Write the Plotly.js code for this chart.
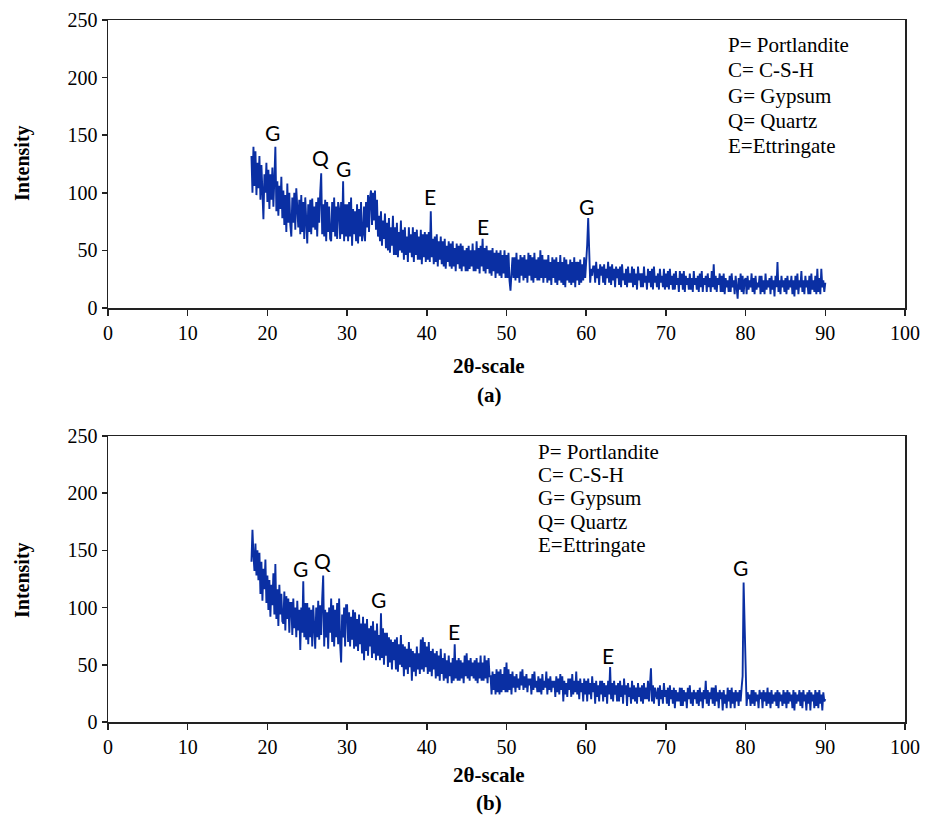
<!DOCTYPE html>
<html>
<head>
<meta charset="utf-8">
<script src="https://cdn.plot.ly/plotly-3.0.1.min.js"></script>
<style>html,body{margin:0;padding:0;background:#fff;}#chart{width:937px;height:823px;}</style>
</head>
<body>
<div id="chart"></div>
<script>
// ---- data ----
const twoThetaStart = 18;
const twoThetaStep = 0.125;

// Panel (a) intensities, 18.000 .. 90.000 deg, step 0.125 (one row per degree)
const intensityA = [
  132,100,140,106,136,98,126,104,
  132,94,124,90,77,116,100,126,
  92,120,86,116,94,122,88,112,
  140,84,110,80,106,86,114,78,
  102,72,98,66,108,74,100,72,
  62,96,74,100,68,104,90,70,
  94,64,98,66,92,60,96,68,
  56,90,66,94,64,95,70,88,
  68,92,62,96,74,100,117,64,
  90,62,94,58,92,66,88,60,
  58,92,66,96,62,88,60,92,
  86,60,92,64,110,58,90,62,
  90,58,92,62,96,54,86,64,
  84,58,90,56,86,62,92,58,
  64,88,58,92,70,98,66,96,
  102,72,100,76,102,68,94,62,
  80,58,84,54,76,60,82,52,
  74,50,78,48,70,54,80,46,
  70,46,74,44,66,50,76,48,
  68,42,70,46,62,40,70,48,
  64,44,70,40,66,46,68,42,
  62,42,68,38,64,44,66,40,
  64,42,66,40,84,44,60,38,
  62,40,64,36,58,42,62,38,
  58,36,60,34,54,40,58,36,
  56,34,58,36,52,32,56,38,
  54,34,56,32,54,36,50,32,
  52,32,54,34,50,36,56,32,
  50,32,58,34,52,30,54,36,
  60,32,52,30,54,34,50,30,
  50,28,52,32,48,26,50,30,
  48,28,50,26,46,30,50,26,
  46,26,48,24,15,30,44,26,
  44,24,48,26,42,22,46,28,
  44,24,46,26,42,22,48,28,
  46,24,44,22,48,26,42,24,
  44,24,50,26,46,22,42,26,
  42,22,46,24,40,20,44,26,
  42,22,44,20,40,24,46,22,
  40,20,44,18,42,24,38,22,
  42,20,40,22,44,18,40,24,
  40,20,42,22,38,24,44,26,
  38,55,78,50,22,34,28,36,
  36,22,40,26,34,20,38,28,
  36,22,38,20,34,26,40,22,
  36,20,38,24,34,18,36,26,
  34,20,36,18,38,24,30,20,
  34,18,36,22,30,22,36,18,
  34,20,30,16,36,24,30,18,
  30,18,36,22,28,16,34,22,
  32,18,34,16,36,22,28,18,
  30,16,34,22,28,18,34,16,
  30,18,32,16,34,20,28,16,
  30,16,32,20,26,14,32,20,
  30,16,32,14,28,20,26,16,
  30,16,26,14,32,20,26,16,
  28,14,30,18,32,14,26,20,
  28,14,30,18,26,14,32,18,
  38,16,28,14,26,20,30,14,
  28,14,30,12,26,18,24,14,
  28,14,30,18,24,12,28,18,
  8,26,16,30,14,28,12,24,
  26,12,28,16,24,18,30,14,
  26,12,28,16,22,18,28,12,
  28,14,24,12,30,16,24,18,
  26,12,28,16,24,10,28,18,
  40,14,24,12,28,18,24,14,
  26,12,28,16,24,18,28,12,
  24,10,28,16,30,12,24,18,
  32,14,24,12,28,18,24,12,
  28,12,30,16,24,14,28,12,
  34,14,26,12,34,18,24,14,
  22
];

// Panel (b) intensities, 18.000 .. 90.000 deg, step 0.125 (one row per degree)
const intensityB = [
  140,168,146,132,156,128,150,124,
  148,112,140,106,134,116,142,104,
  128,98,124,92,120,102,130,94,
  138,90,116,84,120,94,112,88,
  86,114,80,110,90,108,78,104,
  104,76,108,82,100,74,106,80,
  98,63,100,78,123,74,104,72,
  104,68,100,74,98,66,102,76,
  64,100,74,106,72,102,76,108,
  128,66,98,74,96,64,100,78,
  108,70,102,66,98,74,104,68,
  108,68,52,94,74,100,66,102,
  102,70,96,66,92,72,98,64,
  96,66,90,62,94,68,86,60,
  92,54,86,62,90,58,82,66,
  84,56,88,60,80,54,86,58,
  76,54,95,56,82,50,78,58,
  78,48,74,52,72,46,70,54,
  72,46,74,44,68,50,76,48,
  68,40,66,46,64,42,70,48,
  64,36,62,44,60,40,66,46,
  60,42,72,46,74,44,70,48,
  66,42,70,44,62,40,64,46,
  60,38,62,40,58,36,64,42,
  56,36,60,38,54,34,58,40,
  52,34,56,36,68,38,54,36,
  56,36,54,38,52,34,58,40,
  60,38,54,36,56,40,52,38,
  54,36,56,34,52,38,58,36,
  52,36,58,38,54,34,56,40,
  40,24,44,28,42,24,46,26,
  44,24,46,26,42,28,48,26,
  52,26,46,28,42,24,44,30,
  40,26,42,30,38,28,44,32,
  46,28,40,30,42,26,38,32,
  38,24,42,28,44,30,36,26,
  40,26,38,24,42,28,36,30,
  44,24,38,28,40,26,36,30,
  36,22,40,26,38,24,42,28,
  40,18,36,24,34,22,38,28,
  38,22,42,24,36,26,44,24,
  36,20,38,26,34,18,38,24,
  36,18,38,24,34,20,40,26,
  34,16,36,22,32,18,36,24,
  36,18,34,22,32,16,36,24,
  48,20,34,18,36,24,32,18,
  34,18,36,22,32,16,38,24,
  32,14,34,22,30,16,36,20,
  32,18,30,16,34,22,30,18,
  32,16,34,20,30,20,36,18,
  30,47,18,32,16,30,24,20,
  30,14,32,20,28,16,34,22,
  28,16,30,14,32,20,28,16,
  30,12,28,18,26,18,30,14,
  30,14,28,18,26,12,30,20,
  32,16,26,14,28,20,26,16,
  28,14,30,18,26,12,28,20,
  36,16,28,14,26,20,30,16,
  30,14,32,18,26,12,28,20,
  26,10,28,16,24,12,30,18,
  28,12,30,16,26,12,28,18,
  26,14,28,18,30,40,122,80,
  50,14,26,20,24,14,28,16,
  28,14,26,18,24,12,28,20,
  26,12,28,18,26,14,30,16,
  26,12,28,16,24,18,26,14,
  28,12,26,18,24,14,28,16,
  26,12,28,16,26,18,24,12,
  28,10,26,16,24,18,28,14,
  26,12,28,18,24,10,26,16,
  28,10,26,18,24,12,28,14,
  26,12,28,16,24,10,26,18,
  20
];

const legendLines = ['P= Portlandite', 'C= C-S-H', 'G= Gypsum', 'Q= Quartz', 'E=Ettringate'];
const peakLabelsA = ['G', 'Q', 'G', 'E', 'E', 'G'];
const peakLabelsB = ['G', 'Q', 'G', 'E', 'E', 'G'];
const xTickVals = [0,10,20,30,40,50,60,70,80,90,100];
const yTickVals = [0,50,100,150,200,250];
const xTitle = '2θ-scale';
const yTitle = 'Intensity';
const panelTags = ['(a)', '(b)'];

// ---- build ----
const xA = intensityA.map((_, i) => twoThetaStart + i * twoThetaStep);
const xB = intensityB.map((_, i) => twoThetaStart + i * twoThetaStep);

const lineColor = '#0a2fa3';
const traces = [
  {x: xA, y: intensityA, type: 'scatter', mode: 'lines', xaxis: 'x', yaxis: 'y',
   line: {color: lineColor, width: 1.9}, hoverinfo: 'skip', showlegend: false},
  {x: xB, y: intensityB, type: 'scatter', mode: 'lines', xaxis: 'x2', yaxis: 'y2',
   line: {color: lineColor, width: 1.9}, hoverinfo: 'skip', showlegend: false}
];

const serif = 'Liberation Serif, Times New Roman, serif';
const tickFont = {family: serif, size: 20, color: '#000'};

function xAxis(anchor) {
  return {anchor: anchor, domain: [0, 1], range: [0, 100], tickvals: xTickVals,
    ticks: 'outside', ticklen: 6, tickwidth: 1.5, tickcolor: '#222',
    showline: true, linecolor: '#222', linewidth: 1.5, mirror: true,
    showgrid: false, zeroline: false, tickfont: tickFont, fixedrange: true};
}
function yAxis(anchor, domain) {
  return {anchor: anchor, domain: domain, range: [0, 250], tickvals: yTickVals,
    ticks: 'outside', ticklen: 5, tickwidth: 1.5, tickcolor: '#222',
    showline: true, linecolor: '#222', linewidth: 1.5, mirror: true,
    showgrid: false, zeroline: false, tickfont: tickFont, fixedrange: true};
}

// pixel helpers for layout placement
const L = 108, R = 905, T = 20, B = 722;
const px = p => (p - L) / (R - L);
const py = p => (B - p) / (B - T);

const annotations = [];
function note(text, xp, yp, font, extra) {
  annotations.push(Object.assign({text: text, xref: 'paper', yref: 'paper', x: px(xp), y: py(yp),
    xanchor: 'center', yanchor: 'middle', showarrow: false, font: font}, extra || {}));
}
// axis titles and panel tags
[[163, 366, 395], [580, 775, 803]].forEach((pos, k) => {
  note('<b>' + yTitle + '</b>', 22, pos[0], {family: serif, size: 20, color: '#000'}, {textangle: -90});
  note('<b>' + xTitle + '</b>', 489, pos[1], {family: serif, size: 21, color: '#000'});
  note('<b>' + panelTags[k] + '</b>', 489, pos[2], {family: serif, size: 21, color: '#000'});
});
// legend text blocks
const legA = [45, 70, 96, 121, 146], legB = [452, 475, 498, 522, 545];
const legFont = {family: serif, size: 21, color: '#000'};
legendLines.forEach((t, i) => {
  note(t, 726, legA[i], legFont, {xanchor: 'left'});
  note(t, 536, legB[i], legFont, {xanchor: 'left'});
});
// peak labels (data coordinates)
const posA = [[20.7,152],[26.7,131],[29.6,121],[40.4,97],[47.1,71],[60.0,88]];
const posB = [[24.2,134],[26.9,141],[33.9,107],[43.4,79],[62.7,58],[79.4,135]];
const peakFont = {family: 'Lato, Carlito, Noto Sans, sans-serif', size: 21, color: '#000'};
peakLabelsA.forEach((t, i) => annotations.push({text: t, xref: 'x', yref: 'y', x: posA[i][0], y: posA[i][1],
  xanchor: 'center', yanchor: 'middle', showarrow: false, font: peakFont}));
peakLabelsB.forEach((t, i) => annotations.push({text: t, xref: 'x2', yref: 'y2', x: posB[i][0], y: posB[i][1],
  xanchor: 'center', yanchor: 'middle', showarrow: false, font: peakFont}));

const layout = {
  width: 937, height: 823,
  margin: {l: L, r: 937 - R, t: T, b: 823 - B, pad: 0},
  paper_bgcolor: '#fff', plot_bgcolor: '#fff',
  showlegend: false,
  xaxis: xAxis('y'),
  yaxis: yAxis('x', [py(308), 1]),
  xaxis2: xAxis('y2'),
  yaxis2: yAxis('x2', [0, py(436)]),
  annotations: annotations
};

Plotly.newPlot('chart', traces, layout, {displayModeBar: false, staticPlot: true});
</script>
</body>
</html>
